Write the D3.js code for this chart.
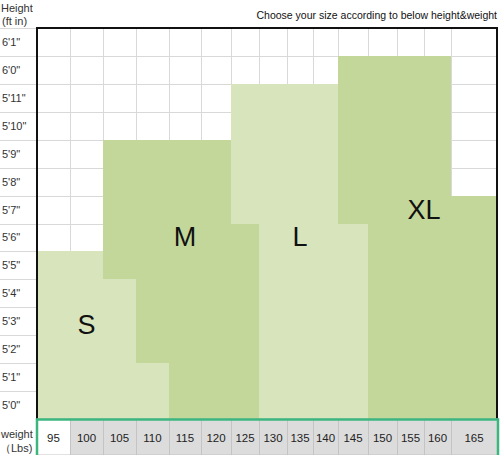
<!DOCTYPE html>
<html>
<head>
<meta charset="utf-8">
<script src="https://cdn.jsdelivr.net/npm/d3@7"></script>
<style>
  body { margin: 0; background: #fff; }
  svg text { font-family: Arial, "Liberation Sans", sans-serif; }
</style>
</head>
<body>
<div id="d3-container"></div>
<script>
/* DATA */
const weights = [95, 100, 105, 110, 115, 120, 125, 130, 135, 140, 145, 150, 155, 160, 165];
const heights = [73, 72, 71, 70, 69, 68, 67, 66, 65, 64, 63, 62, 61, 60]; // inches
const heightLabels = ["6'1\"", "6'0\"", "5'11\"", "5'10\"", "5'9\"", "5'8\"", "5'7\"",
  "5'6\"", "5'5\"", "5'4\"", "5'3\"", "5'2\"", "5'1\"", "5'0\""];

// each entry: [weight column, top height, bottom height]
const sizeS = [[95, 65, 60], [100, 65, 60], [105, 64, 60], [110, 61, 60]];
const sizeM = [[105, 69, 65], [110, 69, 62], [115, 69, 60], [120, 69, 60], [125, 66, 60]];
const sizeL = [[125, 71, 67], [130, 71, 60], [135, 71, 60], [140, 71, 60], [145, 66, 60]];
const sizeXL = [[145, 72, 67], [150, 72, 60], [155, 72, 60], [160, 72, 60], [165, 67, 60]];

// label anchor: [size, weight, height]
const sizeLabels = [["S", 100, 62.85], ["M", 115, 66], ["L", 135, 66], ["XL", 157.5, 67]];

const title = "Choose your size according to below height&weight";

/* LAYOUT */
const width = 500, height = 455;
const plot = { left: 37, right: 497, top: 28, bottom: 419 };
const rowBottom = 455;
// spreadsheet column widths (relative)
const colWidths = [33, 33, 33, 33, 32, 30, 28, 28, 26, 25, 30, 29, 27, 27, 46];

const light = "#d8e4bc", dark = "#c4d79b", grid = "#d9d9d9";

const svg = d3.select("#d3-container")
  .append("svg")
  .attr("width", width)
  .attr("height", height);

// piecewise x scale: weight column edges -> pixel edges
const unitScale = d3.scaleLinear()
  .domain([0, d3.sum(colWidths)])
  .range([plot.left, plot.right]);
const cum = [0, ...d3.cumsum(colWidths)];
const xScale = d3.scaleLinear()
  .domain(cum.map((c, i) => weights[0] - 2.5 + i * 5))
  .range(cum.map(c => unitScale(c)));

const yScale = d3.scaleLinear()
  .domain([heights[heights.length - 1] - 0.5, heights[0] + 0.5])
  .range([plot.bottom, plot.top]);

// horizontal gridlines (run across label column too)
svg.append("g")
  .selectAll("line")
  .data(heights.map(h => h + 0.5))
  .join("line")
  .attr("x1", 0)
  .attr("x2", plot.right)
  .attr("y1", d => Math.round(yScale(d)) + 0.5)
  .attr("y2", d => Math.round(yScale(d)) + 0.5)
  .attr("stroke", grid);

// vertical gridlines
svg.append("g")
  .selectAll("line")
  .data(weights.slice(1).map(w => w - 2.5))
  .join("line")
  .attr("x1", d => Math.round(xScale(d)) + 0.5)
  .attr("x2", d => Math.round(xScale(d)) + 0.5)
  .attr("y1", plot.top)
  .attr("y2", plot.bottom)
  .attr("stroke", grid);

// size regions
const regions = [
  { cells: sizeS, fill: light },
  { cells: sizeM, fill: dark },
  { cells: sizeL, fill: light },
  { cells: sizeXL, fill: dark }
];

regions.forEach(r => {
  svg.append("g")
    .attr("shape-rendering", "crispEdges")
    .selectAll("rect")
    .data(r.cells)
    .join("rect")
    .attr("x", d => Math.round(xScale(d[0] - 2.5)))
    .attr("width", d => Math.round(xScale(d[0] + 2.5)) - Math.round(xScale(d[0] - 2.5)))
    .attr("y", d => Math.round(yScale(d[1] + 0.5)))
    .attr("height", d => Math.round(yScale(d[2] - 0.5)) - Math.round(yScale(d[1] + 0.5)))
    .attr("fill", r.fill);
});

// size letters
svg.append("g")
  .selectAll("text")
  .data(sizeLabels)
  .join("text")
  .attr("x", d => xScale(d[1]))
  .attr("y", d => yScale(d[2]))
  .attr("text-anchor", "middle")
  .attr("dominant-baseline", "central")
  .attr("font-size", 27)
  .attr("fill", "#111")
  .text(d => d[0]);

// plot border
svg.append("path")
  .attr("d", `M${plot.left},${plot.bottom} V${plot.top} H${plot.right} V${plot.bottom}`)
  .attr("fill", "none")
  .attr("stroke", "#111")
  .attr("stroke-width", 2);

// height labels
svg.append("g")
  .selectAll("text")
  .data(heights)
  .join("text")
  .attr("x", 2)
  .attr("y", d => yScale(d))
  .attr("dominant-baseline", "central")
  .attr("font-size", 11)
  .attr("fill", "#333")
  .text((d, i) => heightLabels[i]);

// weight row
const wRow = svg.append("g");
wRow.selectAll("rect")
  .data(weights)
  .join("rect")
  .attr("x", d => Math.round(xScale(d - 2.5)) + 0.5)
  .attr("width", d => Math.round(xScale(d + 2.5)) - Math.round(xScale(d - 2.5)))
  .attr("y", plot.bottom)
  .attr("height", rowBottom - plot.bottom)
  .attr("fill", (d, i) => i === 0 ? "#fff" : "#dcdcdc")
  .attr("stroke", "#c4c4c4");

wRow.selectAll("text")
  .data(weights)
  .join("text")
  .attr("x", d => xScale(d))
  .attr("y", (plot.bottom + rowBottom) / 2 + 1)
  .attr("text-anchor", "middle")
  .attr("dominant-baseline", "central")
  .attr("font-size", 11.5)
  .attr("fill", "#222")
  .text(d => d);

// green selection border round the weight row
svg.append("rect")
  .attr("x", plot.left)
  .attr("y", plot.bottom + 0.5)
  .attr("width", plot.right - plot.left + 1)
  .attr("height", rowBottom - plot.bottom + 1)
  .attr("fill", "none")
  .attr("stroke", "#3cb67f")
  .attr("stroke-width", 2.5);

// corner captions
const captions = svg.append("g");
captions.append("text").attr("x", 1).attr("y", 12).attr("font-size", 11).attr("fill", "#333").text("Height");
captions.append("text").attr("x", 2).attr("y", 25).attr("font-size", 11).attr("fill", "#333").text("(ft in)");
captions.append("text").attr("x", 1).attr("y", 438).attr("font-size", 11).attr("fill", "#333").text("weight");
captions.append("text").attr("x", 0).attr("y", 452).attr("font-size", 11).attr("fill", "#333").text("（Lbs)");

// title
svg.append("text")
  .attr("x", plot.right)
  .attr("y", 19)
  .attr("text-anchor", "end")
  .attr("font-size", 10.5)
  .attr("fill", "#111")
  .text(title);
</script>
</body>
</html>
